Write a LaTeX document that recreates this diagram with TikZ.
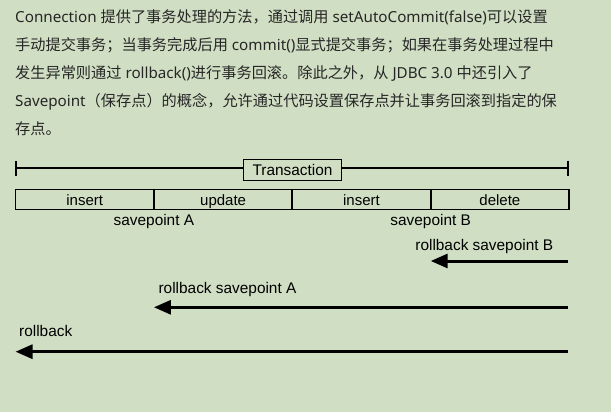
\documentclass[tikz,border=0pt]{standalone}
\usepackage{fontspec}
\setmainfont{Liberation Sans}
\newfontfamily\zh{Noto Sans CJK SC}
\newfontfamily\latin{Noto Sans}
\usetikzlibrary{arrows.meta, positioning}
\definecolor{txBg}{HTML}{D0DFC4}
\definecolor{txText}{HTML}{262626}

\begin{document}
\begin{tikzpicture}[x=1pt, y=-1pt,
  opbox/.style={draw, line width=1.8pt, minimum width=138.4pt, minimum height=20pt,
    inner sep=0pt, outer sep=0pt, text height=11pt, text depth=0pt,
    font=\fontsize{15}{18}\selectfont},
  lbl/.style={inner sep=0pt, font=\fontsize{15.4}{18}\selectfont},
  rb/.style={line width=3pt, -{Triangle[length=17pt, width=14pt]}}]
  \fill[txBg] (0,0) rectangle (611,412);
  \useasboundingbox (0,0) rectangle (611,412);

  % intro paragraph
  \node[anchor=north west, align=left, inner sep=0pt, text=txText,
        font=\latin\fontsize{15.2}{28}\selectfont] (intro) at (15,9)
  {Connection {\zh 提供了事务处理的方法，通过调用} setAutoCommit(false){\zh 可以设置}\\
   {\zh 手动提交事务；当事务完成后用} commit(){\zh 显式提交事务；如果在事务处理过程中}\\
   {\zh 发生异常则通过} rollback(){\zh 进行事务回滚。除此之外，从} JDBC 3.0 {\zh 中还引入了}\\
   Savepoint{\zh （保存点）的概念，允许通过代码设置保存点并让事务回滚到指定的保}\\
   {\zh 存点。}};

  % transaction span
  \coordinate (tlL) at (16,168);
  \coordinate (tlR) at (568,168);
  \draw[line width=1.2pt] (tlL) -- (tlR);
  \draw[line width=1.2pt] ([yshift=7.5pt]tlL) -- ([yshift=-7.5pt]tlL);
  \draw[line width=1.2pt] ([yshift=7.5pt]tlR) -- ([yshift=-7.5pt]tlR);
  \node[draw, line width=1.2pt, fill=txBg, minimum width=98.4pt, minimum height=21.7pt,
        inner sep=0pt, font=\fontsize{15.4}{18}\selectfont] (trans) at (292.5,170) {Transaction};

  % operations
  \node[opbox] (ins1) at (84.7,199.5) {insert};
  \node[opbox, right=0pt of ins1] (upd) {update};
  \node[opbox, right=0pt of upd] (ins2) {insert};
  \node[opbox, right=0pt of ins2] (del) {delete};

  \node[lbl, anchor=base] (spA) at ([yshift=-15.5pt]upd.south west) {savepoint A};
  \node[lbl, anchor=base] (spB) at ([yshift=-15.5pt]del.south west) {savepoint B};

  % rollbacks
  \coordinate (rbBend) at (568,261);
  \coordinate (rbBtip) at (rbBend -| del.west);
  \draw[rb] (rbBend) -- (rbBtip);
  \node[lbl, anchor=base west] (rbBlbl) at ([xshift=-15.5pt, yshift=11pt]rbBtip) {rollback savepoint B};

  \coordinate (rbAend) at (568,307.3);
  \coordinate (rbAtip) at (rbAend -| upd.west);
  \draw[rb] (rbAend) -- (rbAtip);
  \node[lbl, anchor=base west] (rbAlbl) at ([xshift=4.5pt, yshift=14pt]rbAtip) {rollback savepoint A};

  \coordinate (rbend) at (568,351.7);
  \coordinate (rbtip) at (rbend -| ins1.west);
  \draw[rb] (rbend) -- (rbtip);
  \node[lbl, anchor=base west] (rblbl) at ([xshift=3.5pt, yshift=15pt]rbtip) {rollback};
\end{tikzpicture}
\end{document}
